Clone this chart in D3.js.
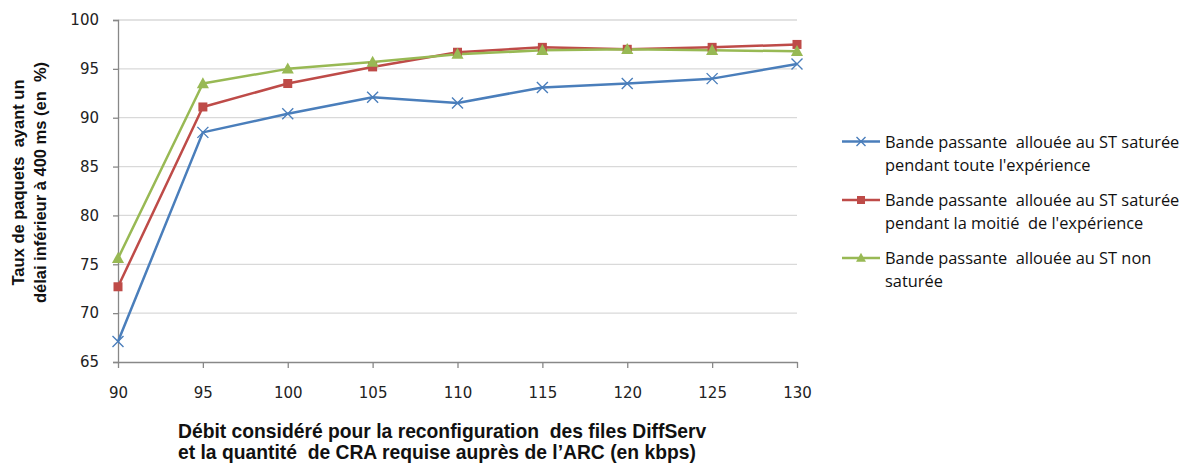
<!DOCTYPE html>
<html>
<head>
<meta charset="utf-8">
<script src="https://cdn.jsdelivr.net/npm/d3@7/dist/d3.min.js"></script>
<style>
  html, body { margin: 0; padding: 0; background: #fff; }
  svg { display: block; }
  svg text { white-space: pre; }
</style>
</head>
<body>
<svg id="chart" width="1190" height="466"></svg>
<script>
// Débit considéré (kbps)
const debits = [90, 95, 100, 105, 110, 115, 120, 125, 130];
const yTicks = [65, 70, 75, 80, 85, 90, 95, 100];

// Taux de paquets ayant un délai < 400 ms (%)
const satureeToute = [67.1, 88.5, 90.4, 92.1, 91.5, 93.1, 93.5, 94.0, 95.5];
const satureeMoitie = [72.7, 91.1, 93.5, 95.2, 96.7, 97.2, 97.0, 97.2, 97.5];
const nonSaturee = [75.6, 93.5, 95.0, 95.7, 96.5, 96.9, 97.0, 96.9, 96.8];

const seriesNames = [
  ["Bande passante  allouée au ST saturée", "pendant toute l'expérience"],
  ["Bande passante  allouée au ST saturée", "pendant la moitié  de l'expérience"],
  ["Bande passante  allouée au ST non", "saturée"]
];
const seriesColors = ["#4a7ebb", "#be4b48", "#98b954"];
const seriesMarkers = ["cross", "square", "triangle"];
const seriesValues = [satureeToute, satureeMoitie, nonSaturee];

const xTitle = ["Débit considéré pour la reconfiguration  des files DiffServ",
                "et la quantité  de CRA requise auprès de l’ARC (en kbps)"];
const yTitle = ["Taux de paquets  ayant un", "délai inférieur à 400 ms (en  %)"];

const svg = d3.select("#chart");
const plot = { left: 118, right: 797, top: 20, bottom: 362 };

const x = d3.scaleLinear().domain([90, 130]).range([plot.left, plot.right]);
const y = d3.scaleLinear().domain([65, 100]).range([plot.bottom, plot.top]);

const tickFont = "'DejaVu Sans', Verdana, sans-serif";

// horizontal gridlines
svg.append("g")
  .selectAll("line")
  .data(yTicks.filter(d => d > 65))
  .join("line")
  .attr("x1", plot.left).attr("x2", plot.right)
  .attr("y1", d => y(d)).attr("y2", d => y(d))
  .attr("stroke", "#d9d9d9").attr("stroke-width", 1.3);

// y axis
const yAxis = svg.append("g")
  .attr("transform", `translate(${plot.left},0)`)
  .call(d3.axisLeft(y).tickValues(yTicks).tickSize(5).tickPadding(14));
yAxis.selectAll("path, line").attr("stroke", "#888").attr("stroke-width", 1.3);
yAxis.selectAll("text").attr("font-family", tickFont).attr("font-size", 15).attr("fill", "#222");

// x axis
const xAxis = svg.append("g")
  .attr("transform", `translate(0,${plot.bottom})`)
  .call(d3.axisBottom(x).tickValues(debits).tickSize(6).tickPadding(19).tickSizeOuter(0));
xAxis.selectAll("path, line").attr("stroke", "#888").attr("stroke-width", 1.3);
xAxis.selectAll("text").attr("font-family", tickFont).attr("font-size", 15).attr("fill", "#222");

// marker drawing helper
function drawMarker(g, type, color, size) {
  if (type === "cross") {
    const s = size / 2;
    g.append("path")
      .attr("d", `M${-s},${-s}L${s},${s}M${-s},${s}L${s},${-s}`)
      .attr("stroke", color).attr("stroke-width", 1.4).attr("fill", "none");
  } else if (type === "square") {
    g.append("rect")
      .attr("x", -size / 2).attr("y", -size / 2)
      .attr("width", size).attr("height", size)
      .attr("fill", color);
  } else {
    const h = size;
    g.append("path")
      .attr("d", `M0,${-h * 0.58}L${h * 0.55},${h * 0.42}L${-h * 0.55},${h * 0.42}Z`)
      .attr("fill", color);
  }
}

const line = d3.line().x((d, i) => x(debits[i])).y(d => y(d));

seriesValues.forEach((vals, si) => {
  svg.append("path")
    .datum(vals)
    .attr("d", line)
    .attr("fill", "none")
    .attr("stroke", seriesColors[si])
    .attr("stroke-width", 2.5)
    .attr("stroke-linejoin", "round");
});
seriesValues.forEach((vals, si) => {
  vals.forEach((v, i) => {
    const g = svg.append("g").attr("transform", `translate(${x(debits[i])},${y(v)})`);
    drawMarker(g, seriesMarkers[si], seriesColors[si], si === 1 ? 9 : 11);
  });
});

// legend
const legendFont = "'Open Sans', 'Liberation Sans', sans-serif";
const legendY = [141.5, 200, 258];
seriesNames.forEach((lines, si) => {
  const g = svg.append("g").attr("transform", `translate(0,${legendY[si]})`);
  g.append("line").attr("x1", 842).attr("x2", 880).attr("y1", 0).attr("y2", 0)
    .attr("stroke", seriesColors[si]).attr("stroke-width", 2.5);
  const mg = g.append("g").attr("transform", "translate(861,0)");
  drawMarker(mg, seriesMarkers[si], seriesColors[si], si === 1 ? 8 : 9);
  lines.forEach((t, li) => {
    g.append("text")
      .attr("x", 885).attr("y", li * 23 + 6)
      .attr("font-family", legendFont).attr("font-size", 16.4)
      .attr("fill", "#111")
      .text(t);
  });
});

// x axis title
const titleX = svg.append("text")
  .attr("font-family", "'Liberation Sans', Arial, sans-serif")
  .attr("font-weight", "bold").attr("font-size", 19.3).attr("fill", "#111");
xTitle.forEach((t, i) => {
  titleX.append("tspan").attr("x", 178).attr("y", 438 + i * 20.5).text(t);
});

// y axis title
const titleY = svg.append("text")
  .attr("transform", "translate(0,182.5) rotate(-90)")
  .attr("text-anchor", "middle")
  .attr("font-family", "'Liberation Sans', Arial, sans-serif")
  .attr("font-weight", "bold").attr("font-size", 16.5).attr("fill", "#111");
yTitle.forEach((t, i) => {
  titleY.append("tspan").attr("x", 0).attr("y", 24 + i * 22).text(t);
});
</script>
</body>
</html>
